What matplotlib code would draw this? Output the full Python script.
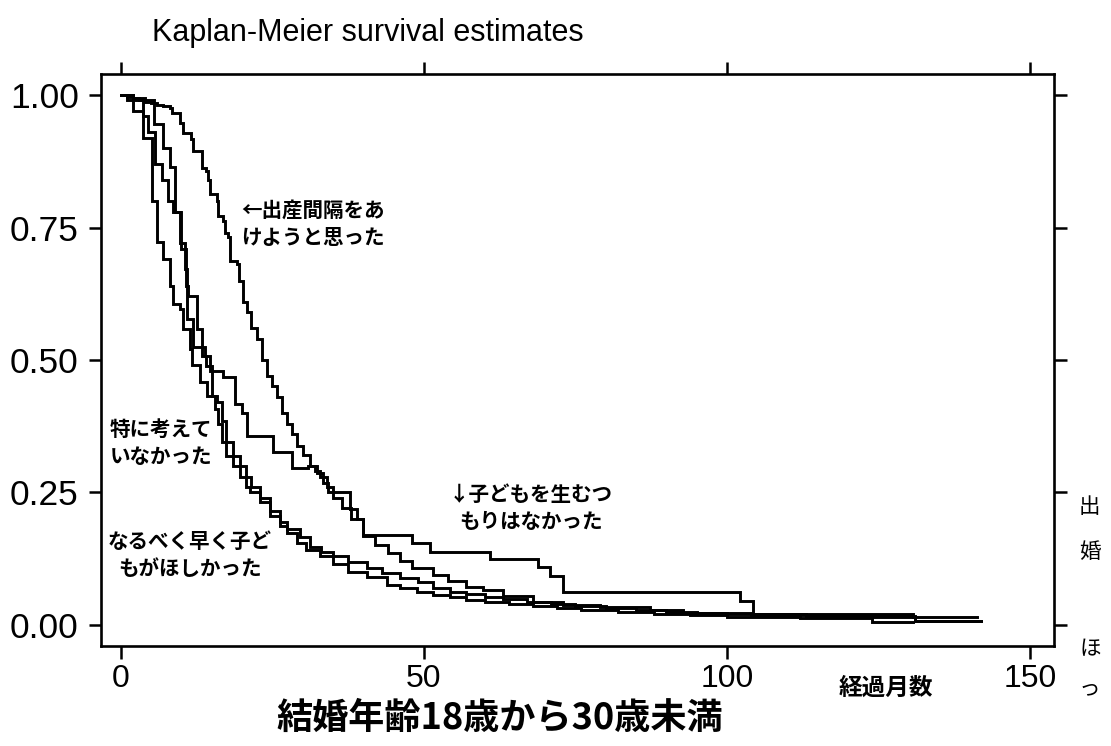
import matplotlib
matplotlib.use("Agg")
import matplotlib.pyplot as plt

# Kaplan-Meier step data: event times (months) and survival after each step
t_spacing = [0, 1, 2, 3, 4, 5, 6, 7, 8.1, 8.4, 9.7, 10.3, 11.6, 11.9, 13.3, 14.1, 14.4,
             14.7, 15.8, 16.0, 16.9, 17.2, 17.7, 18.0, 19.1, 19.4, 20.1, 20.8, 21.5,
             22.4, 23.2, 24.1, 25.0, 25.7, 26.5, 27.4, 28.2, 29.0, 30.0, 31.2, 32.0,
             32.8, 34.0, 35.0, 36.5, 38.0, 40.0, 42.0, 44.0, 46.0, 48.0, 51.5, 54.0,
             57.0, 59.7, 63.0, 68.0, 73.0, 79.0, 87.3, 92.8, 104.0, 113.0, 131.0]
s_spacing = [1.0, .997, .994, .991, .988, .985, .982, .979, .975, .966, .947, .928, .918,
             .894, .862, .856, .839, .814, .80, .771, .763, .739, .733, .687, .682, .65,
             .61, .59, .56, .54, .50, .47, .45, .43, .40, .38, .36, .337, .32, .30, .29,
             .28, .26, .24, .22, .20, .167, .15, .135, .12, .108, .095, .082, .072, .066,
             .055, .044, .038, .034, .028, .023, .02, .016, .008]
end_spacing = 142.0

t_none = [0, 2, 4, 5.5, 7.0, 8.1, 8.9, 9.7, 10.5, 10.9, 11.9, 13.9, 14.7, 16.8, 18.8,
          20.0, 20.8, 25.1, 28.2, 30.9, 32.4, 33.3, 34.2, 37.8, 38.9, 40.0, 48.0, 51.0,
          60.9, 68.8, 70.8, 72.9, 102.1, 104.3, 130.7]
s_none = [1.0, .995, .99, .945, .90, .865, .78, .72, .672, .578, .525, .508, .479, .468,
          .417, .40, .356, .326, .297, .30, .287, .268, .25, .218, .199, .17, .155, .138,
          .125, .11, .093, .0625, .045, .02, .015]
end_none = 141.3

t_nothought = [0, 2, 3.7, 4.5, 5.6, 6.7, 7.8, 8.6, 9.9, 10.8, 11.1, 12.5, 13.3, 14.1,
               15.0, 15.8, 16.6, 17.4, 18.5, 19.6, 20.7, 21.5, 22.9, 24.6, 26.2, 27.4,
               29.5, 31.2, 33.0, 35.0, 37.5, 40.6, 43.0, 46.0, 49.0, 51.5, 54.3, 57.0,
               60.0, 63.0, 67.0, 71.0, 75.0, 80.0, 85.0, 90.0, 95.0, 100.0, 104.0,
               115.0, 131.0]
s_nothought = [1.0, .99, .96, .93, .87, .84, .80, .78, .71, .64, .621, .559, .508, .489,
               .432, .42, .385, .345, .318, .30, .28, .261, .24, .215, .195, .18, .165,
               .146, .138, .129, .118, .108, .098, .089, .08, .07, .0625, .058, .053,
               .048, .043, .039, .035, .031, .028, .025, .023, .021, .019, .015, .008]
end_nothought = 142.0

t_soon = [0, 1, 2, 3.7, 5.1, 5.9, 7.0, 8.1, 8.6, 9.7, 10.3, 11.4, 11.7, 13.0, 14.2,
          15.5, 16.0, 16.6, 17.4, 18.5, 19.6, 20.7, 21.3, 22.9, 24.6, 26.2, 27.4, 29.0,
          30.5, 32.8, 35.0, 37.5, 40.6, 43.9, 46.0, 48.8, 51.5, 54.3, 57.0, 60.0, 64.0,
          68.0, 72.0, 76.0, 82.0, 88.0, 94.0, 100.0, 112.0, 124.0]
s_soon = [1.0, .99, .97, .92, .80, .723, .69, .64, .606, .597, .559, .52, .49, .458,
          .432, .407, .379, .345, .318, .30, .28, .261, .25, .231, .205, .186, .174,
          .155, .142, .129, .114, .10, .091, .076, .07, .0625, .057, .052, .047, .043,
          .039, .035, .031, .028, .024, .021, .018, .015, .012, .006]
end_soon = 130.7

x_ticks = [0, 50, 100, 150]
y_ticks = [0.0, 0.25, 0.50, 0.75, 1.00]
y_ticklabels = ["0.00", "0.25", "0.50", "0.75", "1.00"]

W, H = 1111, 746
fig = plt.figure(figsize=(W / 100, H / 100), dpi=100)
ax = fig.add_axes([101 / W, 1 - 646 / H, (1054 - 101) / W, (646 - 74) / H])

for t, s, end in [(t_spacing, s_spacing, end_spacing),
                  (t_none, s_none, end_none),
                  (t_nothought, s_nothought, end_nothought),
                  (t_soon, s_soon, end_soon)]:
    ax.step(list(t) + [end], list(s) + [s[-1]], where="post",
            color="black", lw=2.1, solid_joinstyle="miter")

ax.set_xlim(-3.3, 154)
ax.set_ylim(-0.04, 1.04)
ax.set_xticks(x_ticks)
ax.set_xticklabels([str(v) for v in x_ticks])
ax.set_yticks(y_ticks)
ax.set_yticklabels(y_ticklabels)
ax.tick_params(direction="out", length=9, width=1.8, top=True, right=True,
               labeltop=False, labelright=False, colors="black")
ax.tick_params(axis="y", pad=7)
ax.tick_params(axis="x", pad=4)
for lab in ax.get_xticklabels():
    lab.set_fontfamily("Liberation Sans")
    lab.set_fontsize(23)
for lab in ax.get_yticklabels():
    lab.set_fontfamily("Liberation Sans")
    lab.set_fontsize(25.5)
for sp in ax.spines.values():
    sp.set_linewidth(1.9)

def px(x, y):
    return x / W, 1 - y / H

cjk = ["Noto Sans CJK JP", "DejaVu Sans"]
lab_kw = dict(fontfamily=cjk, fontweight="bold", fontsize=14.8, ha="center",
              va="center", color="black", linespacing=1.35)

fig.text(*px(152, 33), "Kaplan-Meier survival estimates", fontfamily="Liberation Sans",
         fontsize=22, ha="left", va="center")
fig.text(*px(313, 224), "←出産間隔をあ\nけようと思った", **lab_kw)
fig.text(*px(161, 443), "特に考えて\nいなかった", **lab_kw)
fig.text(*px(190, 555), "なるべく早く子ど\nもがほしかった", **lab_kw)
fig.text(*px(531, 508), "↓子どもを生むつ\nもりはなかった", **lab_kw)
fig.text(*px(886, 688), "経過月数", fontfamily=cjk, fontweight="bold", fontsize=17,
         ha="center", va="center")
fig.text(*px(500, 718), "結婚年齢18歳から30歳未満", fontfamily=cjk, fontweight="bold",
         fontsize=26, ha="center", va="center")

for ch, yy in [("出", 507), ("婚", 552), ("ほ", 649), ("っ", 688)]:
    fig.text(*px(1079, yy), ch, fontfamily=cjk, fontsize=15.5, ha="left", va="center")

fig.savefig("out.png", dpi=100, facecolor="white")
